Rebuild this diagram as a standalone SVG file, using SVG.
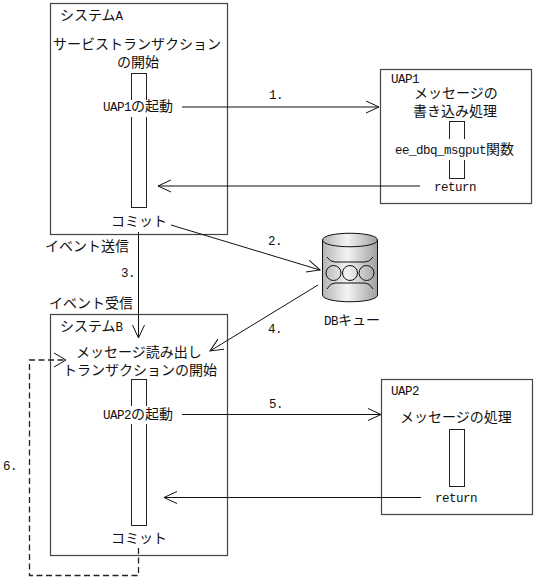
<svg xmlns="http://www.w3.org/2000/svg" width="535" height="579" viewBox="0 0 535 579">
<style>
text{font-family:"Noto Sans CJK JP",sans-serif;font-size:14px;fill:#111}
.l{font-family:"Liberation Mono",monospace;font-size:12.500px;letter-spacing:-.5px}
.box{fill:#fff;stroke:#444;stroke-width:1.200}
.bar{fill:#fff;stroke:#222;stroke-width:1}
.c{fill:none;stroke:#111;stroke-width:1}
.d{fill:none;stroke:#222;stroke-width:1.300;stroke-dasharray:6 3.500}
.wb{fill:#fff}
</style>
<defs>
<marker id="a" markerUnits="userSpaceOnUse" markerWidth="16" markerHeight="16" refX="13" refY="7" orient="auto"><path d="M0 1L13 7L0 13" fill="none" stroke="#111"/></marker>
<linearGradient id="g"><stop offset="0" stop-color="#b4b4b4"/><stop offset=".45" stop-color="#f4f4f4"/><stop offset="1" stop-color="#a0a0a0"/></linearGradient>
</defs>
<g id="systemA">
<rect class="box" x="50.500" y="3.500" width="177" height="231"/>
<rect class="bar" x="131.500" y="73.500" width="15" height="134"/>
<rect class="wb" x="102" y="100" width="72" height="17"/>
<text x="60" y="20">システム<tspan class="l">A</tspan></text>
<text x="53" y="48.500">サービストランザクション</text>
<text x="117" y="66.500">の開始</text>
<text x="103" y="111"><tspan class="l">UAP1</tspan>の起動</text>
<text x="111" y="226">コミット</text>
</g>
<g id="uap1">
<rect class="box" x="380.500" y="69.500" width="151" height="134"/>
<rect class="bar" x="449.500" y="121.500" width="15" height="57"/>
<rect class="wb" x="394" y="139" width="126" height="21"/>
<text x="391" y="83" class="l">UAP1</text>
<text x="414" y="98">メッセージの</text>
<text x="413" y="116">書き込み処理</text>
<text x="395" y="154"><tspan class="l">ee_dbq_msgput</tspan>関数</text>
<text x="434" y="191" class="l">return</text>
</g>
<g id="dbq">
<path d="M322.500 240C322.500 231 377.500 231 377.500 240V295C377.500 304 322.500 304 322.500 295Z" fill="url(#g)" stroke="#111"/>
<path class="c" d="M322.500 240C322.500 249 377.500 249 377.500 240"/>
<path class="c" d="M327 257Q330 262 335 262H365Q370 262 373 257M327 289Q330 283 335 283H365Q370 283 373 289"/>
<circle class="c" cx="333.500" cy="273" r="7.500"/><circle class="c" cx="350" cy="273" r="7.500"/><circle class="c" cx="366.500" cy="273" r="7.500"/>
<text x="324" y="325"><tspan class="l">DB</tspan>キュー</text>
</g>
<g id="systemB">
<rect class="box" x="50.500" y="314.500" width="177" height="241"/>
<rect class="bar" x="131.500" y="379.500" width="15" height="146"/>
<rect class="wb" x="102" y="406" width="72" height="18"/>
<text x="60" y="331">システム<tspan class="l">B</tspan></text>
<text x="76" y="357">メッセージ読み出し</text>
<text x="63" y="375">トランザクションの開始</text>
<text x="103" y="419"><tspan class="l">UAP2</tspan>の起動</text>
<text x="111" y="543">コミット</text>
</g>
<g id="uap2">
<rect class="box" x="381.500" y="379.500" width="151" height="135"/>
<rect class="bar" x="449.500" y="429.500" width="15" height="57"/>
<text x="391" y="395" class="l">UAP2</text>
<text x="400" y="422">メッセージの処理</text>
<text x="435" y="502" class="l">return</text>
</g>
<g id="connectors">
<path class="c" d="M182 107H379" marker-end="url(#a)"/>
<path class="c" d="M420 186H158" marker-end="url(#a)"/>
<path class="c" d="M171 225L320 270" marker-end="url(#a)"/>
<path class="c" d="M138.500 232V338" marker-end="url(#a)"/>
<path class="c" d="M318 285L210 351" marker-end="url(#a)"/>
<path class="c" d="M182 414.500H381" marker-end="url(#a)"/>
<path class="c" d="M421 497.500H164" marker-end="url(#a)"/>
<path class="d" d="M138.500 548V575.500H29.500V360H66"/>
<path class="c" d="M54 353L66 360L54 367"/>
</g>
<g id="labels">
<text x="45" y="251">イベント送信</text>
<text x="49" y="308">イベント受信</text>
<text class="l" x="121" y="277">3.</text>
<text class="l" x="269" y="99">1.</text>
<text class="l" x="268" y="245">2.</text>
<text class="l" x="268" y="333">4.</text>
<text class="l" x="269" y="408">5.</text>
<text class="l" x="3" y="470">6.</text>
</g>
</svg>
